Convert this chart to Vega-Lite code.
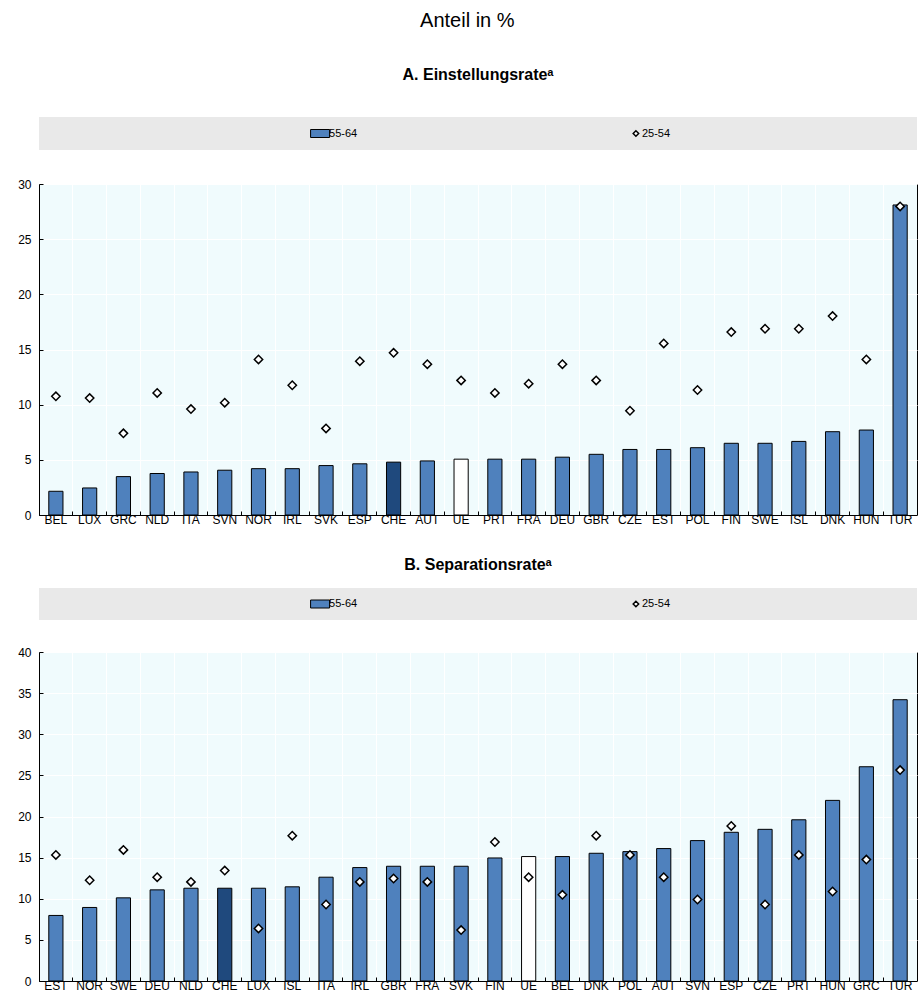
{
  "$schema": "https://vega.github.io/schema/vega-lite/v6.json",
  "padding": {"left": 17, "top": 11, "right": 1, "bottom": 2},
  "title": {"text": "Anteil in %", "fontSize": 20, "fontWeight": "normal", "font": "Liberation Sans", "anchor": "middle", "offset": 36, "color": "black"},
  "datasets": {
    "legend": [{"item": "55-64"}, {"item": "25-54"}],
    "A": [
      {"country": "BEL", "v5564": 2.15, "v2554": 10.76},
      {"country": "LUX", "v5564": 2.45, "v2554": 10.6},
      {"country": "GRC", "v5564": 3.48, "v2554": 7.4},
      {"country": "NLD", "v5564": 3.76, "v2554": 11.06},
      {"country": "ITA", "v5564": 3.9, "v2554": 9.6},
      {"country": "SVN", "v5564": 4.06, "v2554": 10.18},
      {"country": "NOR", "v5564": 4.2, "v2554": 14.1},
      {"country": "IRL", "v5564": 4.2, "v2554": 11.76},
      {"country": "SVK", "v5564": 4.48, "v2554": 7.85},
      {"country": "ESP", "v5564": 4.64, "v2554": 13.94},
      {"country": "CHE", "v5564": 4.79, "v2554": 14.7},
      {"country": "AUT", "v5564": 4.9, "v2554": 13.67},
      {"country": "UE", "v5564": 5.06, "v2554": 12.2},
      {"country": "PRT", "v5564": 5.06, "v2554": 11.06},
      {"country": "FRA", "v5564": 5.06, "v2554": 11.9},
      {"country": "DEU", "v5564": 5.24, "v2554": 13.67},
      {"country": "GBR", "v5564": 5.5, "v2554": 12.2},
      {"country": "CZE", "v5564": 5.94, "v2554": 9.45},
      {"country": "EST", "v5564": 5.94, "v2554": 15.55},
      {"country": "POL", "v5564": 6.1, "v2554": 11.33},
      {"country": "FIN", "v5564": 6.5, "v2554": 16.58},
      {"country": "SWE", "v5564": 6.5, "v2554": 16.88},
      {"country": "ISL", "v5564": 6.67, "v2554": 16.88},
      {"country": "DNK", "v5564": 7.55, "v2554": 18.03},
      {"country": "HUN", "v5564": 7.7, "v2554": 14.1},
      {"country": "TUR", "v5564": 28.1, "v2554": 27.97}
    ],
    "B": [
      {"country": "EST", "v5564": 7.97, "v2554": 15.33},
      {"country": "NOR", "v5564": 8.94, "v2554": 12.25},
      {"country": "SWE", "v5564": 10.11, "v2554": 15.94},
      {"country": "DEU", "v5564": 11.08, "v2554": 12.62},
      {"country": "NLD", "v5564": 11.28, "v2554": 12.05},
      {"country": "CHE", "v5564": 11.28, "v2554": 13.43},
      {"country": "LUX", "v5564": 11.28, "v2554": 6.39},
      {"country": "ISL", "v5564": 11.45, "v2554": 17.67},
      {"country": "ITA", "v5564": 12.62, "v2554": 9.3},
      {"country": "IRL", "v5564": 13.79, "v2554": 12.05},
      {"country": "GBR", "v5564": 13.95, "v2554": 12.46},
      {"country": "FRA", "v5564": 13.95, "v2554": 12.05},
      {"country": "SVK", "v5564": 13.95, "v2554": 6.19},
      {"country": "FIN", "v5564": 14.96, "v2554": 16.9},
      {"country": "UE", "v5564": 15.13, "v2554": 12.62},
      {"country": "BEL", "v5564": 15.13, "v2554": 10.48},
      {"country": "DNK", "v5564": 15.53, "v2554": 17.67},
      {"country": "POL", "v5564": 15.73, "v2554": 15.33},
      {"country": "AUT", "v5564": 16.1, "v2554": 12.62},
      {"country": "SVN", "v5564": 17.07, "v2554": 9.91},
      {"country": "ESP", "v5564": 18.08, "v2554": 18.85},
      {"country": "CZE", "v5564": 18.44, "v2554": 9.3},
      {"country": "PRT", "v5564": 19.6, "v2554": 15.33},
      {"country": "HUN", "v5564": 21.96, "v2554": 10.88},
      {"country": "GRC", "v5564": 26.05, "v2554": 14.76},
      {"country": "TUR", "v5564": 34.2, "v2554": 25.64}
    ]
  },
  "spacing": 31,
  "vconcat": [
    {
      "spacing": 27,
      "vconcat": [
        {
          "title": {"text": "A. Einstellungsrateᵃ", "fontSize": 16, "fontWeight": "bold", "font": "Liberation Sans Narrow, Liberation Sans", "anchor": "middle", "offset": 34, "color": "black"},
          "width": 878, "height": 33,
          "view": {"fill": "#E9E9E9", "stroke": null},
          "data": {"name": "legend"},
          "encoding": {"x": {"field": "item", "type": "nominal", "sort": null, "scale": {"type": "point", "padding": 0.89}, "axis": null}},
          "layer": [
            {"transform": [{"filter": "datum.item === '55-64'"}], "mark": {"type": "point", "shape": "M-1.9,-0.8H1.9V0.8H-1.9Z", "size": 100, "filled": true, "fill": "#4F81BD", "stroke": "black", "strokeWidth": 1, "opacity": 1}},
            {"transform": [{"filter": "datum.item === '25-54'"}], "mark": {"type": "point", "shape": "diamond", "size": 30, "filled": true, "fill": "white", "stroke": "black", "strokeWidth": 1.5, "opacity": 1}},
            {"transform": [{"filter": "datum.item === '55-64'"}], "mark": {"type": "text", "align": "left", "dx": 9, "fontSize": 11, "font": "Liberation Sans Narrow, Liberation Sans", "color": "black"}, "encoding": {"text": {"field": "item"}}},
            {"transform": [{"filter": "datum.item === '25-54'"}], "mark": {"type": "text", "align": "left", "dx": 6, "fontSize": 11, "font": "Liberation Sans Narrow, Liberation Sans", "color": "black"}, "encoding": {"text": {"field": "item"}}}
          ]
        },
        {
          "width": 878, "height": 331,
          "data": {"name": "A"},
          "encoding": {
            "x": {"field": "country", "type": "nominal", "sort": null, "scale": {"paddingInner": 0, "paddingOuter": 0},
              "axis": {"title": null, "bandPosition": 0, "labelAngle": 0, "grid": true, "gridColor": "white", "gridWidth": 1, "tickSize": -4, "tickColor": "black", "domainColor": "black", "labelPadding": 3}}
          },
          "layer": [
            {"mark": {"type": "bar", "width": {"band": 0.42}, "stroke": "black", "strokeWidth": 1},
             "encoding": {
               "y": {"field": "v5564", "type": "quantitative", "scale": {"domain": [0, 30]},
                 "axis": {"title": null, "values": [0, 5, 10, 15, 20, 25, 30], "grid": true, "gridColor": "white", "tickSize": -4, "tickColor": "black", "domainColor": "black", "labelPadding": 12}},
               "fill": {"condition": [{"test": "datum.country === 'CHE'", "value": "#1F497D"}, {"test": "datum.country === 'UE'", "value": "white"}], "value": "#4F81BD"}
             }},
            {"mark": {"type": "point", "shape": "diamond", "size": 70, "filled": true, "fill": "white", "stroke": "black", "strokeWidth": 1.5, "opacity": 1},
             "encoding": {"y": {"field": "v2554", "type": "quantitative"}}}
          ]
        }
      ]
    },
    {
      "spacing": 25,
      "vconcat": [
        {
          "title": {"text": "B. Separationsrateᵃ", "fontSize": 16, "fontWeight": "bold", "font": "Liberation Sans Narrow, Liberation Sans", "anchor": "middle", "offset": 15, "color": "black"},
          "width": 878, "height": 32,
          "view": {"fill": "#E9E9E9", "stroke": null},
          "data": {"name": "legend"},
          "encoding": {"x": {"field": "item", "type": "nominal", "sort": null, "scale": {"type": "point", "padding": 0.89}, "axis": null}},
          "layer": [
            {"transform": [{"filter": "datum.item === '55-64'"}], "mark": {"type": "point", "shape": "M-1.9,-0.8H1.9V0.8H-1.9Z", "size": 100, "filled": true, "fill": "#4F81BD", "stroke": "black", "strokeWidth": 1, "opacity": 1}},
            {"transform": [{"filter": "datum.item === '25-54'"}], "mark": {"type": "point", "shape": "diamond", "size": 30, "filled": true, "fill": "white", "stroke": "black", "strokeWidth": 1.5, "opacity": 1}},
            {"transform": [{"filter": "datum.item === '55-64'"}], "mark": {"type": "text", "align": "left", "dx": 9, "fontSize": 11, "font": "Liberation Sans Narrow, Liberation Sans", "color": "black"}, "encoding": {"text": {"field": "item"}}},
            {"transform": [{"filter": "datum.item === '25-54'"}], "mark": {"type": "text", "align": "left", "dx": 6, "fontSize": 11, "font": "Liberation Sans Narrow, Liberation Sans", "color": "black"}, "encoding": {"text": {"field": "item"}}}
          ]
        },
        {
          "width": 878, "height": 329,
          "data": {"name": "B"},
          "encoding": {
            "x": {"field": "country", "type": "nominal", "sort": null, "scale": {"paddingInner": 0, "paddingOuter": 0},
              "axis": {"title": null, "bandPosition": 0, "labelAngle": 0, "grid": true, "gridColor": "white", "gridWidth": 1, "tickSize": -4, "tickColor": "black", "domainColor": "black", "labelPadding": 3}}
          },
          "layer": [
            {"mark": {"type": "bar", "width": {"band": 0.42}, "stroke": "black", "strokeWidth": 1},
             "encoding": {
               "y": {"field": "v5564", "type": "quantitative", "scale": {"domain": [0, 40]},
                 "axis": {"title": null, "values": [0, 5, 10, 15, 20, 25, 30, 35, 40], "grid": true, "gridColor": "white", "tickSize": -4, "tickColor": "black", "domainColor": "black", "labelPadding": 12}},
               "fill": {"condition": [{"test": "datum.country === 'CHE'", "value": "#1F497D"}, {"test": "datum.country === 'UE'", "value": "white"}], "value": "#4F81BD"}
             }},
            {"mark": {"type": "point", "shape": "diamond", "size": 70, "filled": true, "fill": "white", "stroke": "black", "strokeWidth": 1.5, "opacity": 1},
             "encoding": {"y": {"field": "v2554", "type": "quantitative"}}}
          ]
        }
      ]
    }
  ],
  "config": {
    "view": {"fill": "#F0FBFD", "stroke": "black", "strokeWidth": 1},
    "axis": {"labelFont": "Liberation Sans Narrow, Liberation Sans", "labelFontSize": 12, "labelColor": "black"}
  }
}
